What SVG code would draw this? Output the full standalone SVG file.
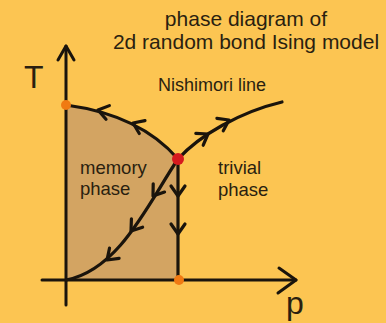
<svg xmlns="http://www.w3.org/2000/svg" xmlns:xlink="http://www.w3.org/1999/xlink" width="386" height="323" viewBox="0 0 386 323">
<style>
.ln{fill:none;stroke:#1a140c;stroke-width:3.2;stroke-linecap:round;stroke-linejoin:round}
.ax{fill:none;stroke:#1a140c;stroke-width:3;stroke-linecap:round;stroke-linejoin:round}
.t{font-family:"Liberation Sans",Arial,sans-serif;fill:#2a1f10}
</style>
<defs>
<path id="chev" d="M-10,-7 L0,0 L-10,7" class="ln"/>
</defs>
<rect width="386" height="323" fill="#FCC552"/>
<g id="title">
<text class="t" x="246" y="26" font-size="21" text-anchor="middle">phase diagram of</text>
<text class="t" x="246" y="49" font-size="21" text-anchor="middle">2d random bond Ising model</text>
</g>
<g id="memory-region">
<path d="M66,105 Q140,115 178,159 L178,280 L66,280 Z" fill="#D3A462"/>
</g>
<g id="axes">
<path class="ax" d="M66,305 L66,46"/>
<path class="ax" d="M58,60 L66,46 L74,60"/>
<path class="ax" d="M42,280 L296,280"/>
<path class="ax" d="M279,268 L296,280 L278,293"/>
<text class="t" x="24" y="88" font-size="32">T</text>
<text class="t" x="286" y="314" font-size="32">p</text>
</g>
<g id="connectors">
<path class="ln" d="M66,105 Q140,115 178,159"/>
<path class="ln" d="M178,159 C200,135 240,112 282,102"/>
<path class="ln" d="M178,159 C150,200 120,270 66,280"/>
<path class="ln" d="M178,159 L178,280"/>
<use xlink:href="#chev" transform="translate(98,110) rotate(194)"/>
<use xlink:href="#chev" transform="translate(133,123) rotate(204)"/>
<use xlink:href="#chev" transform="translate(208,134) rotate(-32)"/>
<use xlink:href="#chev" transform="translate(229,120) rotate(-27)"/>
<use xlink:href="#chev" transform="translate(153,196) rotate(126)"/>
<use xlink:href="#chev" transform="translate(131,231) rotate(127)"/>
<use xlink:href="#chev" transform="translate(107,260) rotate(137)"/>
<use xlink:href="#chev" transform="translate(178,196) rotate(90)"/>
<use xlink:href="#chev" transform="translate(178,234) rotate(90)"/>
</g>
<g id="node-origin-T"><circle cx="66" cy="105" r="5" fill="#F07A12"/></g>
<g id="node-origin-p"><circle cx="179" cy="280" r="5" fill="#F07A12"/></g>
<g id="node-nishimori-point"><circle cx="178" cy="159" r="6" fill="#D61A1E"/></g>
<g id="labels">
<text class="t" x="158" y="91" font-size="18">Nishimori line</text>
<text class="t" x="80" y="174" font-size="18.5">memory</text>
<text class="t" x="80" y="195" font-size="18.5">phase</text>
<text class="t" x="218" y="174" font-size="18.5">trivial</text>
<text class="t" x="218" y="196" font-size="18.5">phase</text>
</g>
</svg>
